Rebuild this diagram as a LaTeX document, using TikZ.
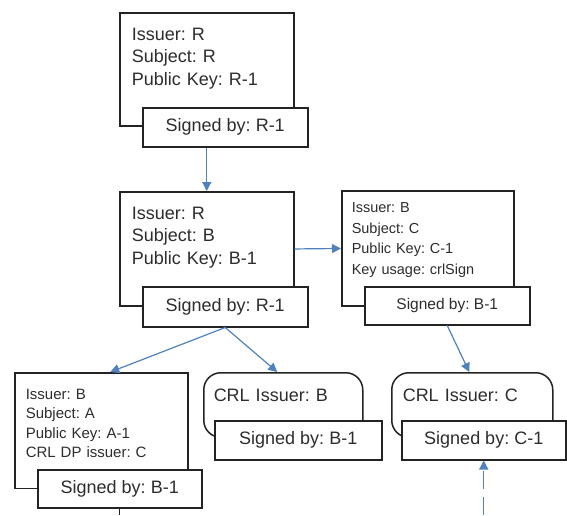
\documentclass[tikz,border=0pt]{standalone}
\usepackage{fontspec}
\setmainfont{Liberation Sans}
\frenchspacing
\usetikzlibrary{calc,arrows.meta}

\definecolor{arrowblue}{RGB}{79,129,189}
\definecolor{boxline}{RGB}{35,35,35}
\definecolor{txt}{RGB}{45,45,45}

\begin{document}
\begin{tikzpicture}[x=1pt,y=-1pt,
    cert/.style={draw=boxline,line width=1.5pt,fill=white,text=txt,align=left,
      anchor=north west,inner xsep=12pt,inner ysep=15pt,
      font=\fontsize{18}{22.5}\selectfont},
    crl/.style={cert,rounded corners=17pt,inner xsep=10pt,inner ysep=16pt},
    signbox/.style={draw=boxline,line width=1.5pt,fill=white,text=txt,
      anchor=north west,font=\fontsize{18}{22}\selectfont},
    link/.style={draw=arrowblue,line width=1.2pt,-{Triangle[width=9pt,length=9pt]}}]
  \useasboundingbox (0,0) rectangle (567,515);

  \node[cert,text width=150pt,text depth=71pt] (certR) at (119,12)
    {Issuer: R\\Subject: R\\Public Key: R-1};
  \node[signbox,minimum width=165pt,minimum height=39pt] (signR) at (142,107) {Signed by: R-1};

  \node[cert,text width=150pt,text depth=72pt] (certB) at (119,191)
    {Issuer: R\\Subject: B\\Public Key: B-1};
  \node[signbox,minimum width=165pt,minimum height=40pt] (signB) at (142,286) {Signed by: R-1};

  \node[cert,text width=152pt,text depth=81.5pt,inner xsep=10pt,inner ysep=12pt,
        font=\fontsize{14.5}{20.5}\selectfont] (certC) at (341,190)
    {Issuer: B\\Subject: C\\Public Key: C-1\\Key usage: crlSign};
  \node[signbox,minimum width=165pt,minimum height=38pt,
        font=\fontsize{15.5}{18}\selectfont] (signC) at (364,286) {Signed by: B-1};

  \node[cert,text width=151pt,text depth=73.5pt,inner xsep=11pt,inner ysep=16pt,
        font=\fontsize{15}{19.5}\selectfont] (certA) at (14,372)
    {Issuer: B\\Subject: A\\Public Key: A-1\\CRL DP issuer: C};
  \node[signbox,minimum width=164pt,minimum height=38pt] (signA) at (37,469) {Signed by: B-1};

  \node[crl,text width=139pt,text depth=20pt] (crlB) at (203,372) {CRL Issuer: B};
  \node[signbox,minimum width=167pt,minimum height=39pt] (signCB) at (214,420) {Signed by: B-1};

  \node[crl,text width=139pt,text depth=20pt,inner xsep=11pt] (crlC) at (391,372) {CRL Issuer: C};
  \node[signbox,minimum width=164pt,minimum height=39pt] (signCC) at (401,420) {Signed by: C-1};

  % chain
  \draw[link] (signR.south -| certR.south) -- (certB.north);
  \draw[link] (certB.east) -- (certC.west);
  \draw[link] (signB.south) -- ([xshift=9pt]certA.north);
  \draw[link] (signB.south) -- ([xshift=-6pt]crlB.north);
  \draw[link] (signC.south) -- ([xshift=-3pt]crlC.north);

  % loose ends at the bottom
  \coordinate (feedC) at (signCC.south |- 0,515);
  \coordinate (feedA) at (signA.south |- 0,515);
  \draw[link,dash pattern=on 18pt off 8pt] (feedC) -- (signCC.south);
  \draw[boxline,line width=1.2pt] (signA.south) -- (feedA);
\end{tikzpicture}
\end{document}
